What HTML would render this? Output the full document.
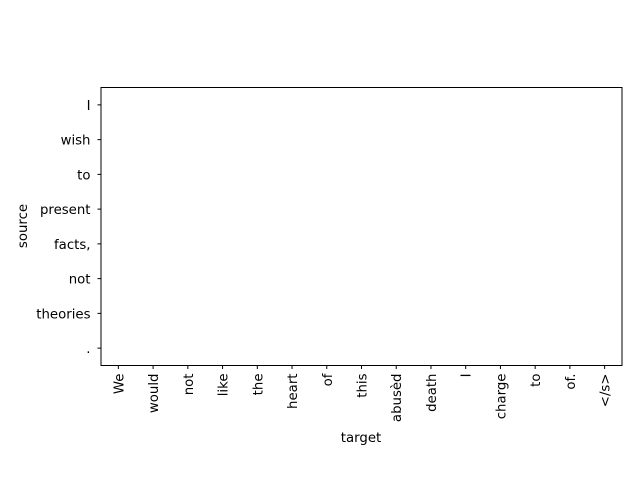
<!DOCTYPE html>
<html><head><meta charset="utf-8"><style>
body{margin:0;background:#fff}
svg{display:block;font-family:"DejaVu Sans","Liberation Sans",sans-serif}
</style></head><body>
<svg id="chart" width="640" height="480" xmlns="http://www.w3.org/2000/svg">
<rect width="640" height="480" fill="#fff"/>
<g id="cells"></g>
<rect x="101" y="87.5" width="521" height="278" fill="none" stroke="#000" stroke-width="1"/>
<g id="xt"></g>
<g id="yt"></g>
<text x="361" y="442" font-size="13.3" text-anchor="middle">target</text>
<text x="27" y="226" font-size="13.3" text-anchor="middle" transform="rotate(-90 27 226)">source</text>
</svg>
<script>
const targets = ["We","would","not","like","the","heart","of","this","abusèd","death","I","charge","to","of.","</s>"];
const sources = ["I","wish","to","present","facts,","not","theories","."];
const weights = sources.map(()=>targets.map(()=>0));
const X0=101,X1=622,Y0=87.5,Y1=365.5;
const cw=(X1-X0)/targets.length, ch=(Y1-Y0)/sources.length;
const xc=i=>X0+cw*(i+0.5), yc=j=>Y0+ch*(j+0.5);
const NS="http://www.w3.org/2000/svg";
const cells=document.getElementById('cells');
weights.forEach((row,j)=>row.forEach((v,i)=>{
  const r=document.createElementNS(NS,'rect');
  r.setAttribute('x',xc(i)-cw/2);r.setAttribute('y',yc(j)-ch/2);
  r.setAttribute('width',cw);r.setAttribute('height',ch);
  const g=Math.round(255*(1-v));
  r.setAttribute('fill',`rgb(${g},${g},${g})`);
  
  
  cells.appendChild(r);
}));
const xt=document.getElementById('xt');
targets.forEach((t,i)=>{
  const x=xc(i);
  const l=document.createElementNS(NS,'line');
  l.setAttribute('x1',x);l.setAttribute('x2',x);l.setAttribute('y1',Y1);l.setAttribute('y2',Y1+3.5);
  l.setAttribute('stroke','#000');
  
  
  xt.appendChild(l);
  const tx=document.createElementNS(NS,'text');
  tx.setAttribute('font-size','13.3');tx.setAttribute('text-anchor','end');
  tx.setAttribute('transform',`translate(${x+5},${Y1+8}) rotate(-90)`);
  tx.textContent=t;
  
  
  xt.appendChild(tx);
});
const yt=document.getElementById('yt');
sources.forEach((s,j)=>{
  const y=yc(j);
  const l=document.createElementNS(NS,'line');
  l.setAttribute('x1',X0-3.5);l.setAttribute('x2',X0);l.setAttribute('y1',y);l.setAttribute('y2',y);
  l.setAttribute('stroke','#000');
  
  
  yt.appendChild(l);
  const tx=document.createElementNS(NS,'text');
  tx.setAttribute('font-size','13.3');tx.setAttribute('text-anchor','end');
  tx.setAttribute('x',X0-10.5);tx.setAttribute('y',y+5);
  tx.textContent=s;
  
  
  yt.appendChild(tx);
});
</script>
</body></html>
